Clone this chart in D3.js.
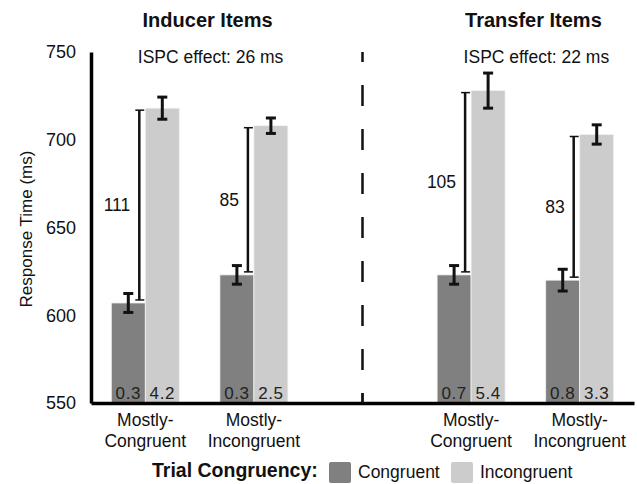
<!DOCTYPE html>
<html>
<head>
<meta charset="utf-8">
<script src="https://cdn.jsdelivr.net/npm/d3@7"></script>
<style>
  html, body { margin: 0; padding: 0; background: #fff; }
  svg { display: block; font-family: "Liberation Sans", Arial, Helvetica, sans-serif; }
</style>
</head>
<body>
<svg id="chart" width="637" height="484"></svg>
<script>
// ---- data ----
const slots = ["IMC", "IMI", "gap", "TMC", "TMI"];
const groups = ["IMC", "IMI", "TMC", "TMI"];
const groupLine1 = ["Mostly-", "Mostly-", "Mostly-", "Mostly-"];
const groupLine2 = ["Congruent", "Incongruent", "Congruent", "Incongruent"];
const series = ["Congruent", "Incongruent"];
const congruentRT = [607, 623, 623, 620];
const incongruentRT = [718, 708, 728, 703];
const congruentSE = [5.4, 5.3, 5.3, 6.2];
const incongruentSE = [6.3, 4.4, 10, 5.5];
const congruentErr = ["0.3", "0.3", "0.7", "0.8"];
const incongruentErr = ["4.2", "2.5", "5.4", "3.3"];
const diffLabels = ["111", "85", "105", "83"];
const panelTitles = ["Inducer Items", "Transfer Items"];
const panelGroups = [["IMC", "IMI"], ["TMC", "TMI"]];
const ispcLabels = ["ISPC effect: 26 ms", "ISPC effect: 22 ms"];
const yTicks = [550, 600, 650, 700, 750];
const colors = ["#808080", "#cccccc"];

// ---- layout ----
const svg = d3.select("#chart");
const x = d3.scaleBand().domain(slots).range([91, 634]).padding(0);
const xs = d3.scaleBand().domain(series).range([-34, 34]).padding(0);
const y = d3.scaleLinear().domain([550, 750]).range([403, 52]);
const cx = g => x(g) + x.bandwidth() / 2;

const values = [congruentRT, incongruentRT];
const ses = [congruentSE, incongruentSE];
const errs = [congruentErr, incongruentErr];

const bars = [];
groups.forEach((g, i) => series.forEach((s, j) => bars.push({
  g, s, j, v: values[j][i], se: ses[j][i], err: errs[j][i]
})));

// bars
svg.append("g").selectAll("rect").data(bars).join("rect")
  .attr("x", d => cx(d.g) + xs(d.s))
  .attr("y", d => y(d.v))
  .attr("width", xs.bandwidth())
  .attr("height", d => y(550) - y(d.v))
  .attr("fill", d => colors[d.j])
  .attr("stroke", "#f2f2f2")
  .attr("stroke-width", 0.8);

// error rate labels inside bars
svg.append("g").selectAll("text").data(bars).join("text")
  .attr("x", d => cx(d.g) + xs(d.s) + xs.bandwidth() / 2)
  .attr("y", 399)
  .attr("text-anchor", "middle")
  .attr("font-size", 17)
  .attr("letter-spacing", 0.6)
  .attr("fill", "#222")
  .text(d => d.err);

// error bars
const eb = svg.append("g").attr("stroke", "#111").attr("stroke-width", 3);
bars.forEach(d => {
  const mx = cx(d.g) + xs(d.s) + xs.bandwidth() / 2;
  eb.append("line").attr("x1", mx).attr("x2", mx).attr("y1", y(d.v + d.se)).attr("y2", y(d.v - d.se));
  eb.append("line").attr("x1", mx - 5).attr("x2", mx + 5).attr("y1", y(d.v + d.se)).attr("y2", y(d.v + d.se));
  eb.append("line").attr("x1", mx - 5).attr("x2", mx + 5).attr("y1", y(d.v - d.se)).attr("y2", y(d.v - d.se));
});

// difference brackets
const br = svg.append("g");
groups.forEach((g, i) => {
  const bx = cx(g) + xs("Incongruent") - 6;
  const top = y(incongruentRT[i]) + 2;
  const bot = y(congruentRT[i]) - 3;
  br.append("line").attr("x1", bx).attr("x2", bx).attr("y1", top).attr("y2", bot)
    .attr("stroke", "#111").attr("stroke-width", 2.5);
  [top, bot].forEach(yy => br.append("line")
    .attr("x1", bx - 4).attr("x2", bx + 5).attr("y1", yy).attr("y2", yy)
    .attr("stroke", "#111").attr("stroke-width", 1.5));
  br.append("text")
    .attr("x", bx - 9).attr("y", (top + bot) / 2 + 6)
    .attr("text-anchor", "end").attr("font-size", 17.5).attr("fill", "#111")
    .text(diffLabels[i]);
});

// y axis
const yAxis = svg.append("g").attr("transform", "translate(91,0)")
  .call(d3.axisLeft(y).tickValues(yTicks).tickSize(0).tickPadding(15).tickFormat(d3.format("d")));
yAxis.select(".domain").attr("stroke", "#000").attr("stroke-width", 3.5);
yAxis.selectAll("text").attr("font-size", 18).attr("fill", "#111")
  .attr("font-family", "'Liberation Sans', Arial, sans-serif");

// x axis
const xAxis = svg.append("g").attr("transform", "translate(0,403)")
  .call(d3.axisBottom(x).tickValues(["gap"]).tickSize(-10).tickSizeOuter(0).tickFormat(""));
xAxis.select(".domain").attr("stroke", "#000").attr("stroke-width", 3.5);
xAxis.selectAll(".tick line").attr("stroke", "#000").attr("stroke-width", 2);

// category labels
const cl = svg.append("g").attr("font-size", 17.5).attr("fill", "#111").attr("text-anchor", "middle");
groups.forEach((g, i) => {
  cl.append("text").attr("x", cx(g)).attr("y", 426).text(groupLine1[i]);
  cl.append("text").attr("x", cx(g)).attr("y", 447).text(groupLine2[i]);
});

// dashed divider
svg.append("line")
  .attr("x1", cx("gap")).attr("x2", cx("gap"))
  .attr("y1", y(750)).attr("y2", y(550))
  .attr("stroke", "#111").attr("stroke-width", 2.5)
  .attr("stroke-dasharray", "21,23").attr("stroke-dashoffset", 11);

// panel titles and ISPC labels
panelTitles.forEach((t, p) => {
  const mid = (cx(panelGroups[p][0]) + cx(panelGroups[p][1])) / 2;
  svg.append("text").attr("x", mid + 8).attr("y", 27)
    .attr("text-anchor", "middle").attr("font-size", 20).attr("font-weight", "bold").attr("fill", "#111")
    .text(t);
  svg.append("text").attr("x", mid + 11).attr("y", 63)
    .attr("text-anchor", "middle").attr("font-size", 17.5).attr("fill", "#111")
    .text(ispcLabels[p]);
});

// y title
svg.append("text")
  .attr("transform", "translate(32,229) rotate(-90)")
  .attr("text-anchor", "middle").attr("font-size", 17).attr("fill", "#111")
  .text("Response Time (ms)");

// legend
const lg = svg.append("g");
lg.append("text").attr("x", 152).attr("y", 477).attr("font-size", 19.5).attr("font-weight", "bold")
  .attr("fill", "#111").text("Trial Congruency:");
const legX = [329, 451];
series.forEach((s, j) => {
  lg.append("rect").attr("x", legX[j]).attr("y", 462).attr("width", 22).attr("height", 21)
    .attr("rx", 2).attr("fill", colors[j]);
  lg.append("text").attr("x", legX[j] + 29).attr("y", 478).attr("font-size", 17.5)
    .attr("fill", "#111").text(s);
});
</script>
</body>
</html>
